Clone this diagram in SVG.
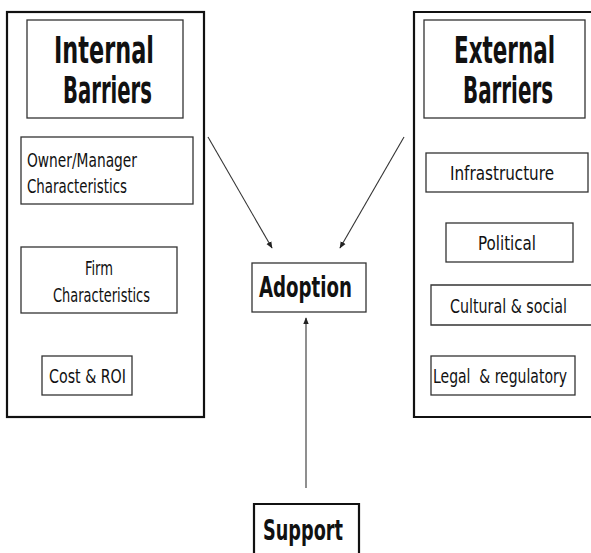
<svg xmlns="http://www.w3.org/2000/svg" width="591" height="553" viewBox="0 0 591 553">
<style>
.outer{fill:none;stroke:#111;stroke-width:2.2}
.box{fill:#fff;stroke:#333;stroke-width:1.3}
.t{font-family:"DejaVu Sans Condensed","DejaVu Sans",sans-serif;font-stretch:condensed;fill:#111}
.h{font-weight:bold;font-size:38px}
.s{font-size:19px}
.m{font-weight:bold;font-size:28px}
.c{stroke:#333;stroke-width:1.1;fill:none;marker-end:url(#ah)}
</style>
<defs>
<marker id="ah" viewBox="0 0 10 10" refX="9" refY="5" markerWidth="7" markerHeight="7" orient="auto" markerUnits="userSpaceOnUse">
<path d="M0,1 L10,5 L0,9 z" fill="#222"/>
</marker>
</defs>
<rect width="591" height="553" fill="#fff"/>
<g id="internal">
<rect class="outer" x="7" y="12" width="197" height="405"/>
<rect class="box" x="27" y="20" width="156" height="98"/>
<text class="t h" x="54" y="63" textLength="100" lengthAdjust="spacingAndGlyphs">Internal</text>
<text class="t h" x="63" y="103" textLength="89" lengthAdjust="spacingAndGlyphs">Barriers</text>
</g>
<g id="owner">
<rect class="box" x="21" y="137" width="172" height="67"/>
<text class="t s" x="27" y="167" textLength="110" lengthAdjust="spacingAndGlyphs">Owner/Manager</text>
<text class="t s" x="27" y="193" textLength="100" lengthAdjust="spacingAndGlyphs">Characteristics</text>
</g>
<g id="firm">
<rect class="box" x="21" y="247" width="156" height="66"/>
<text class="t s" x="85" y="275" textLength="28" lengthAdjust="spacingAndGlyphs">Firm</text>
<text class="t s" x="53" y="302" textLength="97" lengthAdjust="spacingAndGlyphs">Characteristics</text>
</g>
<g id="cost">
<rect class="box" x="42" y="356" width="90" height="39"/>
<text class="t s" x="49" y="383" textLength="77" lengthAdjust="spacingAndGlyphs">Cost &amp; ROI</text>
</g>
<g id="external">
<path class="outer" d="M591,12 H414 V417 H591"/>
<rect class="box" x="424" y="20" width="161" height="98"/>
<text class="t h" x="454" y="63" textLength="101" lengthAdjust="spacingAndGlyphs">External</text>
<text class="t h" x="463" y="103" textLength="90" lengthAdjust="spacingAndGlyphs">Barriers</text>
</g>
<g id="infrastructure">
<rect class="box" x="426" y="153" width="162" height="39"/>
<text class="t s" x="450" y="180" textLength="104" lengthAdjust="spacingAndGlyphs">Infrastructure</text>
</g>
<g id="political">
<rect class="box" x="446" y="223" width="127" height="39"/>
<text class="t s" x="478" y="250" textLength="58" lengthAdjust="spacingAndGlyphs">Political</text>
</g>
<g id="cultural">
<path class="box" d="M591,285 H431 V325 H591"/>
<text class="t s" x="450" y="313" textLength="117" lengthAdjust="spacingAndGlyphs">Cultural &amp; social</text>
</g>
<g id="legal">
<rect class="box" x="431" y="356" width="144" height="39"/>
<text class="t s" x="433" y="383" textLength="134" lengthAdjust="spacingAndGlyphs" xml:space="preserve">Legal  &amp; regulatory</text>
</g>
<g id="adoption">
<rect class="box" x="252" y="263" width="114" height="49"/>
<text class="t m" x="259" y="297" textLength="93" lengthAdjust="spacingAndGlyphs">Adoption</text>
</g>
<g id="support">
<path class="outer" d="M254,553 V504 H359 V553"/>
<text class="t m" x="263" y="540" textLength="80" lengthAdjust="spacingAndGlyphs">Support</text>
</g>
<g id="connectors">
<line class="c" x1="208" y1="137" x2="272" y2="248"/>
<line class="c" x1="404" y1="137" x2="340" y2="248"/>
<line class="c" x1="306" y1="488" x2="306" y2="318"/>
</g>
</svg>
